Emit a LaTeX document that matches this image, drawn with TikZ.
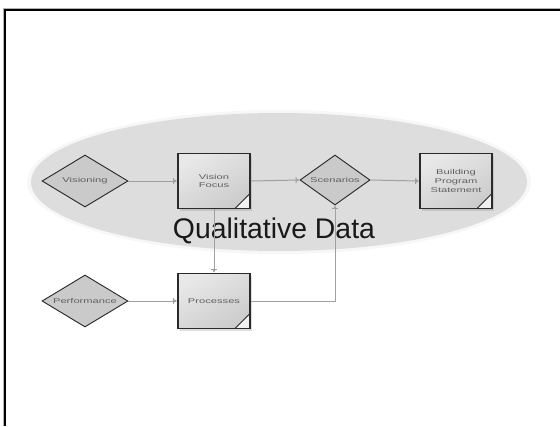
\documentclass[tikz,border=0pt]{standalone}
\usepackage{fontspec}
\setmainfont{Liberation Sans}
\newfontfamily\lblfont[FakeStretch=1.6]{Liberation Sans}
\usetikzlibrary{shapes.geometric,arrows.meta,shadows}
\definecolor{conn}{HTML}{A0A0A0}
\definecolor{ellfill}{HTML}{DDDDDD}
\definecolor{dmfill}{HTML}{CACACA}
\definecolor{boxborder}{HTML}{2A2A2A}
\definecolor{lbl}{HTML}{606060}
\tikzset{
  flow/.style={draw=conn, line width=1bp,
    -{Bar[width=6bp,length=1bp] Triangle[length=3bp,width=3bp]}},
  decision/.style={diamond, draw=black!85, line width=0.9bp, fill=dmfill,
    minimum width=86bp, minimum height=52bp, inner sep=0pt,
    font=\lblfont\fontsize{7}{9}\selectfont, text=lbl, align=center},
  procbox/.style={rectangle, draw=boxborder, line width=1.6bp,
    shading=axis, top color=gray!18, bottom color=gray!40, shading angle=30,
    minimum width=72bp, minimum height=55bp, inner sep=1pt,
    font=\lblfont\fontsize{7}{9}\selectfont, text=lbl, align=center,
    drop shadow={shadow xshift=2bp, shadow yshift=-2bp, opacity=0.25},
    path picture={
      \fill[gray!12] (path picture bounding box.south east) -- ++(-15bp,0) -- ++(15bp,15bp) -- cycle;
      \draw[boxborder, line width=1bp] ([xshift=-15bp]path picture bounding box.south east) -- ++(15bp,15bp);
    }},
}
\begin{document}
\begin{tikzpicture}[x=1bp,y=-1bp]
\useasboundingbox (0,0) rectangle (560,426);
% frame (top and left)
\draw[gray!60, line width=3.5bp] (4.5,426) -- (4.5,9.5) -- (560,9.5);
\draw[black, line width=2bp] (4.5,426) -- (4.5,9.5) -- (560,9.5);
% ellipse
\fill[gray!6] (279,182) ellipse [x radius=252, y radius=72];
\fill[ellfill] (279,182) ellipse [x radius=248, y radius=69];
\node[font=\fontsize{28.5}{31}\selectfont, text=black!90] (qd) at (274,231) {Qualitative Data};
% nodes
\node[decision] (vis) at (85,181) {\makebox[0pt]{Visioning}};
\node[procbox] (vf) at (214,181) {Vision\\Focus};
\node[decision, minimum width=70bp, minimum height=50bp] (sc) at (335,180) {\makebox[0pt]{Scenarios}};
\node[procbox] (bp) at (456,181) {Building\\Program\\Statement};
\node[decision] (perf) at (85,301) {\makebox[0pt]{Performance}};
\node[procbox] (pr) at (214,301) {Processes};
% connectors
\draw[flow] (vis.east) -- (vf.west);
\draw[flow] (vf.east) -- (sc.west);
\draw[flow] (sc.east) -- (bp.west);
\draw[flow] (vf.south) -- (pr.north);
\draw[flow] (perf.east) -- (pr.west);
\draw[flow] (pr.east) -| (sc.south);
\end{tikzpicture}
\end{document}
